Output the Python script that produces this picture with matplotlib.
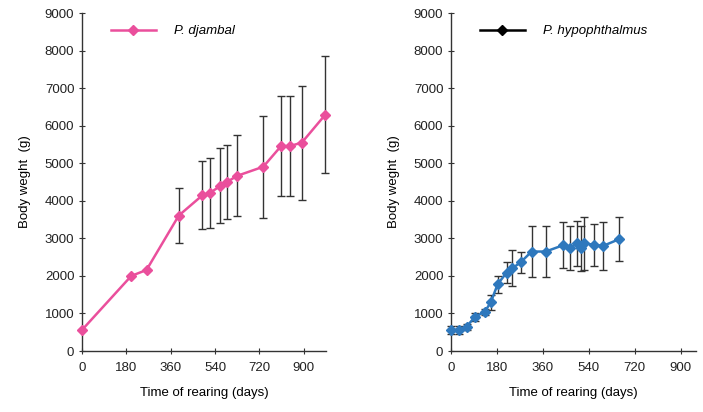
import matplotlib
matplotlib.use("Agg")
import matplotlib.pyplot as plt
from matplotlib.lines import Line2D

plt.rcParams["font.family"] = ["Liberation Sans", "DejaVu Sans"]
plt.rcParams["font.size"] = 9.5

# P. djambal
dj_days = [0, 200, 262, 393, 489, 519, 562, 590, 631, 736, 808, 843, 892, 988]
dj_mean = [560, 2000, 2160, 3610, 4150, 4210, 4400, 4510, 4670, 4910, 5460, 5460, 5550, 6300]
dj_sd = [0, 0, 0, 730, 900, 930, 1000, 980, 1080, 1360, 1330, 1330, 1520, 1570]

# P. hypophthalmus
hy_days = [0, 33, 61, 94, 133, 156, 183, 218, 240, 274, 316, 371, 440, 466, 494, 511, 521, 559, 596, 659]
hy_mean = [560, 560, 650, 910, 1050, 1300, 1780, 2090, 2200, 2370, 2650, 2650, 2820, 2740,
           2870, 2740, 2870, 2830, 2800, 2980]
hy_sd = [100, 100, 80, 110, 80, 200, 230, 280, 480, 280, 690, 680, 610, 580,
         600, 600, 700, 560, 630, 580]

xticks = [0, 180, 360, 540, 720, 900]
yticks = list(range(0, 9001, 1000))

PINK = "#ea4f9c"
BLUE = "#2e78bd"

fig = plt.figure(figsize=(7.03, 4.12), dpi=100)
ax1 = fig.add_axes([0.1166, 0.148, 0.347, 0.820])
ax2 = fig.add_axes([0.6415, 0.148, 0.3485, 0.820])


def style(ax, xmax):
    ax.set_xlim(0, xmax)
    ax.set_ylim(0, 9000)
    ax.set_xticks(xticks)
    ax.set_yticks(yticks)
    for s in ("top", "right"):
        ax.spines[s].set_visible(False)
    for s in ("left", "bottom"):
        ax.spines[s].set_color("#333333")
        ax.spines[s].set_linewidth(1.0)
    ax.tick_params(direction="inout", length=4, width=0.8, colors="#333333",
                   labelcolor="#222222", labelsize=9.5)
    ax.tick_params(axis="x", pad=6)
    ax.set_xlabel("Time of rearing (days)", fontsize=9.5, labelpad=9)
    ax.set_ylabel("Body weght  (g)", fontsize=9.5, labelpad=10)


def legend(ax, color, text):
    h = Line2D([], [], color=color, marker="D", markersize=5, linewidth=1.8)
    ax.legend([h], [text], loc="upper left", bbox_to_anchor=(0.07, 1.0), frameon=False,
              prop={"style": "italic", "size": 9.5}, handlelength=3.4, handletextpad=1.4)


ax1.errorbar(dj_days, dj_mean, yerr=dj_sd, color=PINK, ecolor="#333333", elinewidth=1.0,
             capsize=3, capthick=1.0, marker="D", markersize=5, linewidth=1.8,
             clip_on=False, zorder=3)
style(ax1, 990)
legend(ax1, PINK, "P. djambal")

ax2.errorbar(hy_days, hy_mean, yerr=hy_sd, color=BLUE, ecolor="#333333", elinewidth=1.0,
             capsize=3, capthick=1.0, marker="D", markersize=5, linewidth=1.8,
             clip_on=False, zorder=3)
style(ax2, 960)
legend(ax2, "black", "P. hypophthalmus")

fig.savefig("out.png", dpi=100)
